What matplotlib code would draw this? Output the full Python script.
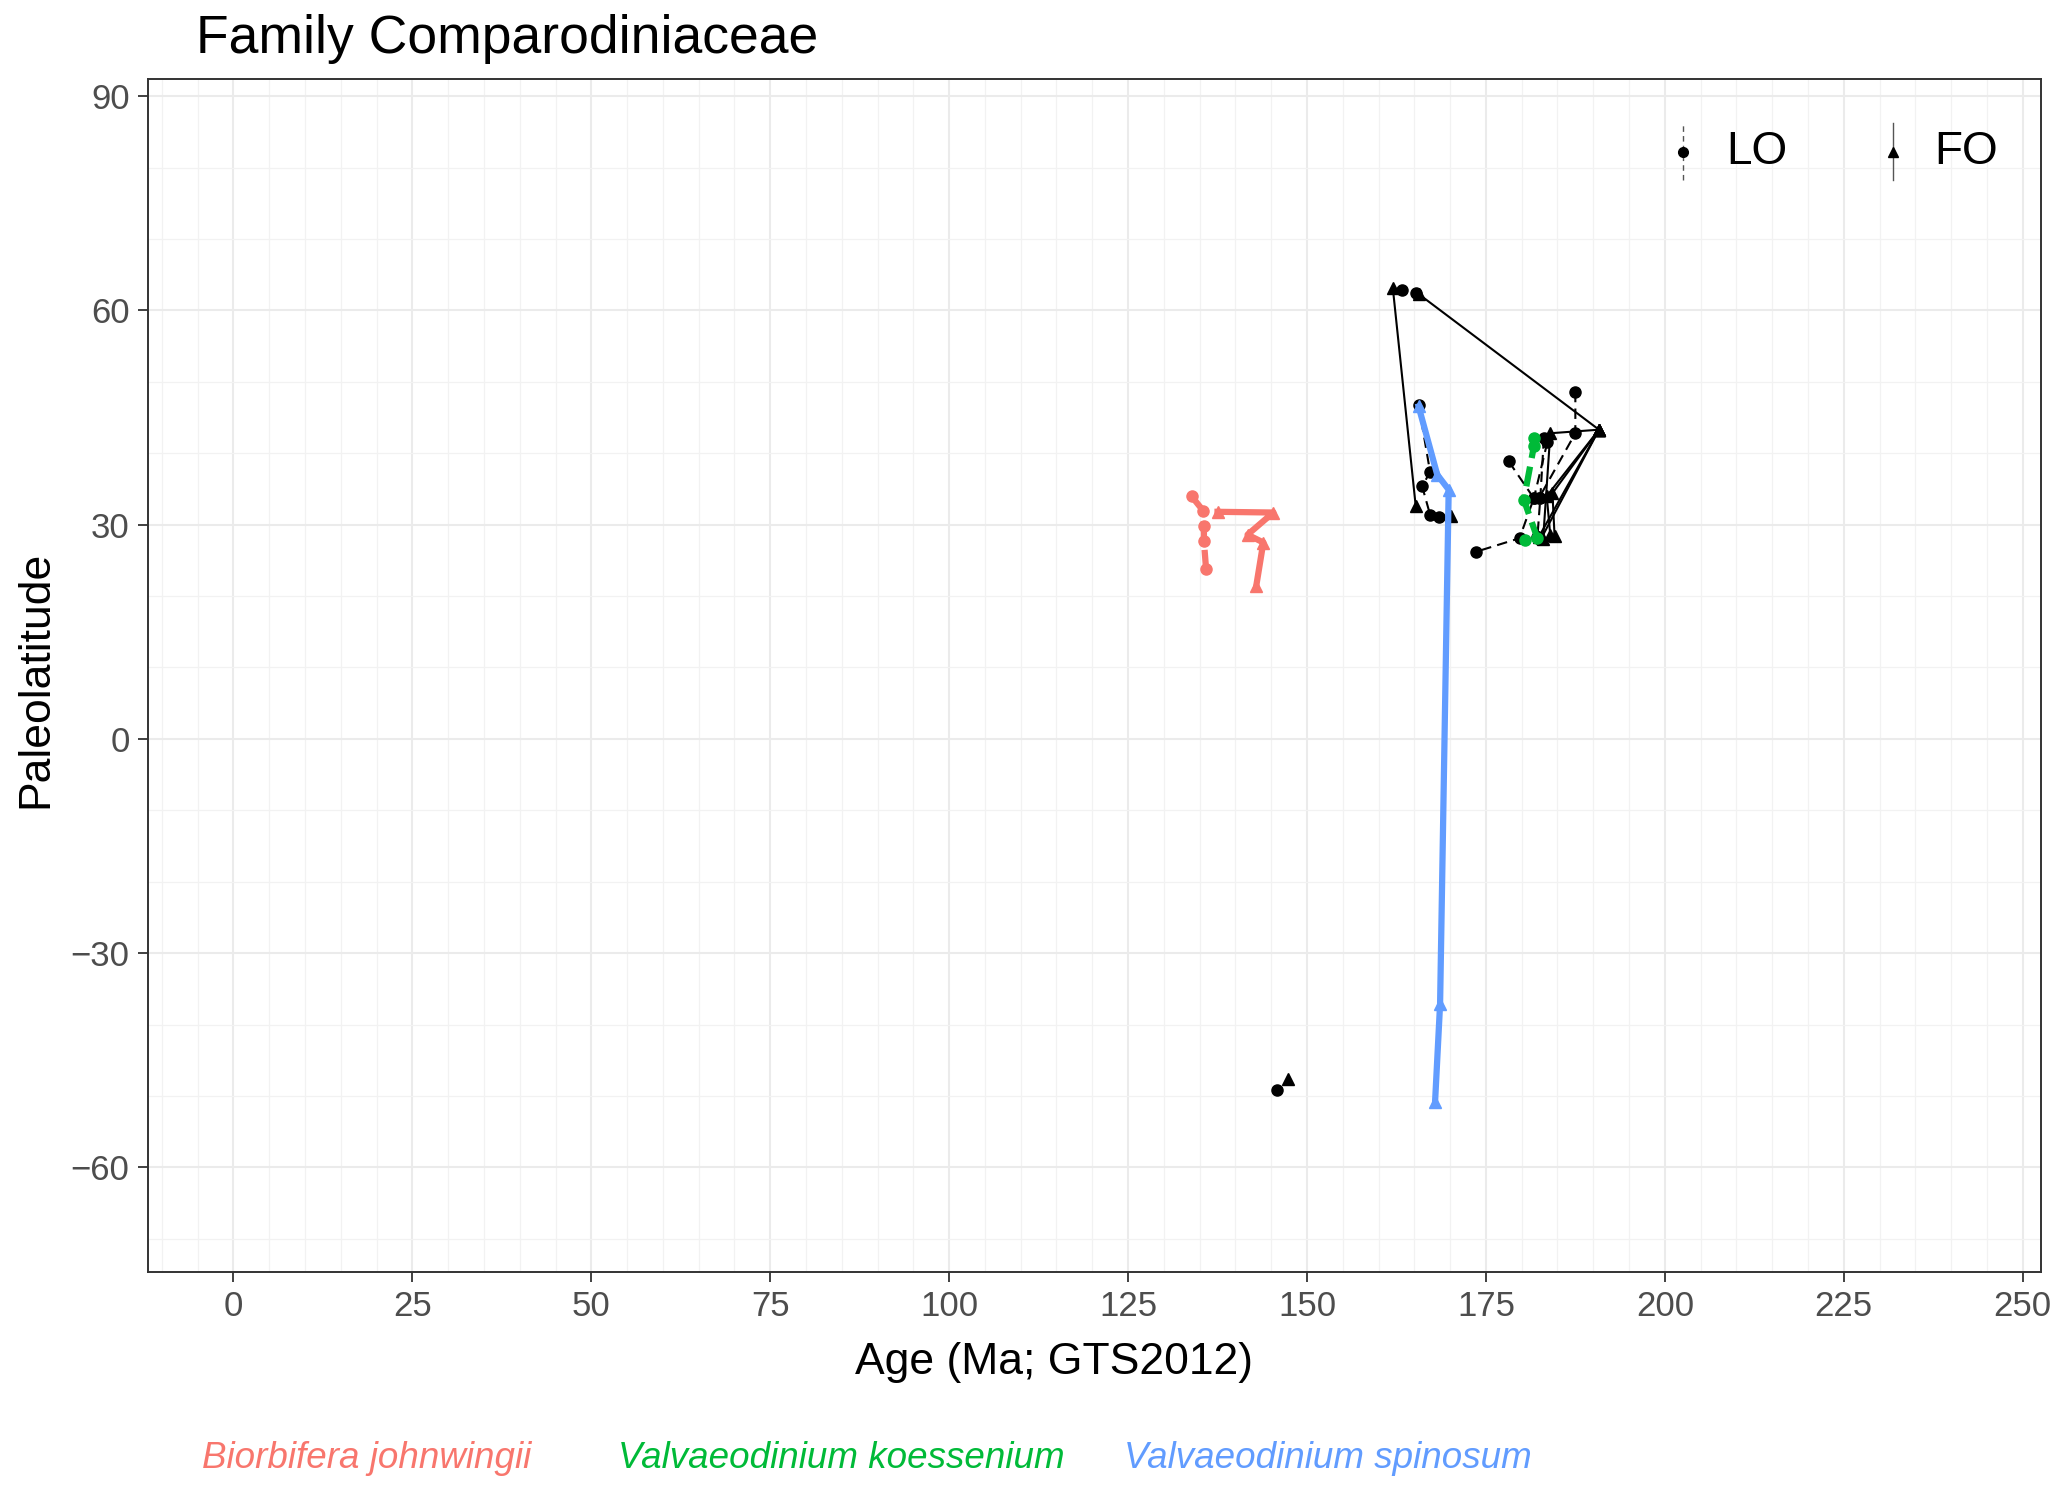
import numpy as np
import matplotlib
matplotlib.use("Agg")
import matplotlib.pyplot as plt

plt.rcParams['font.family'] = ['Liberation Sans', 'DejaVu Sans']

# highlighted species (colour), LO = last occurrence, FO = first occurrence
red_name = "Biorbifera johnwingii"
red_lo_age = [133.9, 135.5, 135.6, 135.6, 135.9]
red_lo_lat = [33.95, 31.95, 29.85, 27.65, 23.8]
red_fo_age = [137.5, 145.3, 141.7, 143.9, 142.9]
red_fo_lat = [31.8, 31.7, 28.6, 27.5, 21.35]

green_name = "Valvaeodinium koessenium"
green_lo_age = [181.7, 181.7, 180.3, 182.2, 180.4]
green_lo_lat = [42.1, 40.95, 33.5, 28.1, 27.9]

blue_name = "Valvaeodinium spinosum"
blue_fo_age = [165.6, 168.2, 169.8, 168.6, 167.9]
blue_fo_lat = [46.55, 37.0, 34.9, -37.1, -50.8]

# other species of the family (black)
sp_a_lo_age = [163.3]
sp_a_lo_lat = [62.8]
sp_a_fo_age = [162.0, 165.2]
sp_a_fo_lat = [63.1, 32.55]

sp_b_lo_age = [165.2]
sp_b_lo_lat = [62.5]
sp_b_fo_age = [165.6, 190.8, 182.4]
sp_b_fo_lat = [62.3, 43.3, 28.3]

sp_c_lo_age = [165.6, 167.2, 166.1, 167.2, 168.5]
sp_c_lo_lat = [46.8, 37.4, 35.35, 31.4, 31.1]
sp_c_fo_age = [170.1]
sp_c_fo_lat = [31.15]

sp_d_lo_age = [187.5, 187.5, 182.4]
sp_d_lo_lat = [48.6, 42.8, 33.7]
sp_d_fo_age = [190.8, 184.3, 184.6]
sp_d_fo_lat = [43.3, 34.4, 28.35]

sp_e_lo_age = [183.1, 182.6, 182.2]
sp_e_lo_lat = [42.1, 33.7, 28.3]
sp_e_fo_age = [190.8, 184.0, 183.0]
sp_e_fo_lat = [43.3, 42.8, 28.0]

sp_f_lo_age = [183.6, 181.7]
sp_f_lo_lat = [41.6, 33.7]
sp_f_fo_age = [190.8, 183.5, 184.0]
sp_f_fo_lat = [43.3, 34.0, 28.5]

sp_g_lo_age = [178.2, 181.7, 179.7, 173.6]
sp_g_lo_lat = [38.85, 33.7, 28.1, 26.2]
sp_g_fo_age = [190.8, 182.8]
sp_g_fo_lat = [43.3, 28.2]

sp_h_lo_age = [145.8]
sp_h_lo_lat = [-49.1]
sp_h_fo_age = [147.4]
sp_h_fo_lat = [-47.6]

x_ticks = [0, 25, 50, 75, 100, 125, 150, 175, 200, 225, 250]
y_ticks = [-60, -30, 0, 30, 60, 90]

fig = plt.figure(figsize=(20.67, 14.89), dpi=100)
ax = fig.add_axes([0.0714, 0.146, 0.9158, 0.8009])

ax.set_xlim(-12, 252.5)
ax.set_ylim(-74.6, 92.4)
ax.set_xticks(x_ticks)
ax.set_yticks(y_ticks)
ax.set_xticks(np.arange(-10, 255, 5), minor=True)
ax.set_yticks(np.arange(-70, 95, 10), minor=True)
ax.grid(which='major', color='#EBEBEB', linewidth=1.5)
ax.grid(which='minor', color='#F2F2F2', linewidth=0.9)
ax.set_axisbelow(True)
ax.tick_params(which='minor', length=0)
ax.tick_params(which='major', length=7, width=1.3, color='#333333',
               labelsize=25, labelcolor='#4D4D4D', pad=6)
for s in ax.spines.values():
    s.set_color('#333333')
    s.set_linewidth(1.4)

ms = 8
black_species = [
    (sp_a_lo_age, sp_a_lo_lat, sp_a_fo_age, sp_a_fo_lat),
    (sp_b_lo_age, sp_b_lo_lat, sp_b_fo_age, sp_b_fo_lat),
    (sp_c_lo_age, sp_c_lo_lat, sp_c_fo_age, sp_c_fo_lat),
    (sp_d_lo_age, sp_d_lo_lat, sp_d_fo_age, sp_d_fo_lat),
    (sp_e_lo_age, sp_e_lo_lat, sp_e_fo_age, sp_e_fo_lat),
    (sp_f_lo_age, sp_f_lo_lat, sp_f_fo_age, sp_f_fo_lat),
    (sp_g_lo_age, sp_g_lo_lat, sp_g_fo_age, sp_g_fo_lat),
    (sp_h_lo_age, sp_h_lo_lat, sp_h_fo_age, sp_h_fo_lat),
]
for lo_a, lo_l, fo_a, fo_l in black_species:
    ax.plot(lo_a, lo_l, color='black', lw=1.5, ls=(0, (5, 3)), marker='o', ms=ms, zorder=3)
    ax.plot(fo_a, fo_l, color='black', lw=1.5, ls='-', marker='^', ms=ms, zorder=3)

red = '#F8766D'
green = '#00BA38'
blue = '#619CFF'
ax.plot(red_lo_age, red_lo_lat, color=red, lw=4.5, ls=(0, (3.2, 1.4)), marker='o', ms=ms, zorder=4)
ax.plot(red_fo_age, red_fo_lat, color=red, lw=4.5, ls='-', marker='^', ms=ms, zorder=4)
ax.plot(green_lo_age, green_lo_lat, color=green, lw=4.5, ls=(0, (3.2, 1.4)), marker='o', ms=ms, zorder=4)
ax.plot(blue_fo_age, blue_fo_lat, color=blue, lw=4.5, ls='-', marker='^', ms=ms, zorder=4)

# legend for occurrence type
tr = ax.transAxes
ax.plot([0.811, 0.811], [0.915, 0.963], transform=tr, color='#555555', lw=1.0, ls=(0, (4, 3)))
ax.plot([0.811], [0.939], transform=tr, color='black', marker='o', ms=7)
ax.text(0.834, 0.939, "LO", transform=tr, fontsize=33, va='center', ha='left')
ax.plot([0.922, 0.922], [0.915, 0.963], transform=tr, color='#555555', lw=1.0)
ax.plot([0.922], [0.939], transform=tr, color='black', marker='^', ms=7)
ax.text(0.9436, 0.939, "FO", transform=tr, fontsize=33, va='center', ha='left')

fig.text(0.095, 0.9646, "Family Comparodiniaceae", fontsize=38.5, ha='left', va='baseline')
fig.text(0.510, 0.077, "Age (Ma; GTS2012)", fontsize=32, ha='center', va='baseline')
fig.text(0.0172, 0.544, "Paleolatitude", fontsize=32, ha='center', va='center', rotation=90)

fig.text(0.0976, 0.0142, red_name, fontsize=26.5, style='italic', color=red, va='baseline')
fig.text(0.299, 0.0142, green_name, fontsize=26.5, style='italic', color=green, va='baseline')
fig.text(0.544, 0.0142, blue_name, fontsize=26.5, style='italic', color=blue, va='baseline')

fig.savefig("out.png", dpi=100)
